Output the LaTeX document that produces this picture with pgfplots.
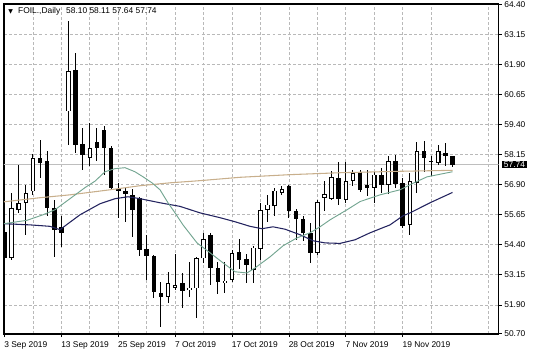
\documentclass[border=0pt]{standalone}
\usepackage{pgfplots}
\pgfplotsset{compat=1.18}
\usepackage{pgfplotstable}
\usepackage{fontspec}
\setmainfont{Liberation Sans}
\newfontfamily\dejavu{DejaVu Sans}

\definecolor{gridc}{RGB}{185,185,185}
\definecolor{navyma}{RGB}{35,35,95}
\definecolor{tealma}{RGB}{115,165,145}
\definecolor{tanma}{RGB}{200,175,140}
\definecolor{pricel}{RGB}{190,190,190}

\pgfplotstableread{
i o h l c
0 54.94 55.05 52.82 53.86
1 53.86 56.55 53.78 55.93
2 55.86 57.73 55.72 56.14
3 56.14 56.90 54.82 56.55
4 56.62 58.19 56.48 58.01
5 58.01 58.78 57.18 57.80
6 57.87 58.29 55.58 55.93
7 55.93 56.28 53.91 55.03
8 55.16 55.58 54.33 54.89
9 59.95 63.70 58.57 61.62
10 61.69 62.39 58.22 58.57
11 58.60 59.26 57.52 58.15
12 58.01 59.47 57.66 58.43
13 58.66 59.26 57.87 58.45
14 59.19 59.36 57.32 58.43
15 58.43 58.50 56.69 56.76
16 56.72 56.97 55.51 56.64
17 56.66 56.76 55.37 56.53
18 56.48 56.72 54.72 55.83
19 56.35 56.41 53.94 54.19
20 54.22 54.82 52.94 53.94
21 53.94 53.98 52.18 52.45
22 52.41 52.87 50.97 52.25
23 52.25 53.25 51.97 52.80
24 52.60 54.03 52.53 52.74
25 52.80 53.22 51.76 52.50
26 52.53 53.70 52.25 52.62
27 52.59 53.91 51.35 53.84
28 53.84 54.91 53.64 54.64
29 54.82 54.89 52.73 53.43
30 53.43 53.70 52.36 52.87
31 52.83 53.70 52.39 52.91
32 52.94 54.20 52.87 54.05
33 54.12 54.64 53.39 53.77
34 53.80 54.00 52.80 53.57
35 53.36 54.36 52.80 54.29
36 54.22 56.14 53.78 55.86
37 55.86 56.48 55.37 56.07
38 56.03 56.76 55.58 56.66
39 56.55 56.83 56.48 56.72
40 56.83 56.90 55.51 55.79
41 55.79 55.89 54.61 55.47
42 55.47 55.58 54.54 54.89
43 54.89 55.30 53.64 54.08
44 54.08 56.28 53.98 56.18
45 56.35 57.04 55.79 56.50
46 56.30 57.46 56.25 57.22
47 57.18 57.83 56.07 56.30
48 56.28 57.83 56.14 57.04
49 57.07 57.52 56.83 57.39
50 57.43 57.52 56.60 56.69
51 56.90 57.52 56.42 56.76
52 56.76 57.45 56.16 57.32
53 57.32 57.60 56.55 56.90
54 56.90 58.08 56.52 57.87
55 57.90 58.15 56.76 56.94
56 56.97 57.20 55.10 55.19
57 55.23 57.39 54.82 57.04
58 56.97 58.66 56.55 58.29
59 58.29 58.70 57.45 58.01
60 57.84 58.08 57.25 57.90
61 57.80 58.54 57.73 58.29
62 58.22 58.64 57.66 58.11
63 58.10 58.11 57.64 57.74
}\candles

\pgfplotstableread{
x y
-0.07 56.19
4.99 56.36
9.21 56.48
14.84 56.69
19.06 56.86
23.27 56.98
27.49 57.07
33.12 57.21
40.15 57.32
47.18 57.40
55.62 57.46
63 57.50
}\tanline

\pgfplotstableread{
x y
-0.07 55.28
3.59 55.23
6.40 55.17
7.81 55.03
8.93 55.28
10.62 55.65
13.43 56.11
15.54 56.32
17.37 56.40
19.06 56.32
21.87 56.15
24.68 56.00
27.49 55.73
30.30 55.53
32.42 55.36
34.52 55.17
36.21 55.07
37.76 55.15
39.45 55.05
41.56 54.82
43.38 54.57
45.07 54.48
47.18 54.46
49.29 54.61
51.40 54.90
54.21 55.23
56.04 55.61
57.03 55.73
59.84 56.15
63 56.58
}\navyline

\pgfplotstableread{
x y
-0.07 55.28
3.16 55.42
5.41 55.65
7.10 55.86
9.21 56.32
11.32 56.78
12.73 57.05
14.13 57.44
15.54 57.57
16.95 57.61
18.35 57.44
19.48 57.23
20.74 56.98
21.87 56.69
22.99 56.15
23.98 55.73
25.10 55.23
27.07 54.48
28.90 54.07
30.73 53.65
32.42 53.28
34.10 53.23
35.23 53.44
37.34 53.90
39.17 54.36
41.14 54.69
42.96 54.90
44.37 55.15
45.78 55.44
48.17 55.86
50.00 56.20
52.81 56.48
55.62 56.69
57.45 56.96
59.42 57.23
63 57.44
}\tealline

\begin{document}
\begin{tikzpicture}[x=1pt,y=1pt]
\useasboundingbox (0,0) rectangle (402,268.5);
\begin{axis}[
  at={(3pt,18pt)}, anchor=south west,
  scale only axis, width=370.9pt, height=247.5pt,
  xmin=-0.07, xmax=69.47, ymin=50.69, ymax=64.42,
  axis line style={black, line width=0.8pt},
  tick style={black, line width=0.6pt},
  tick align=outside, major tick length=2.4pt, minor tick length=0pt,
  xtick pos=left, ytick pos=right, yticklabel pos=right,
  xtick={0,8,...,56}, minor xtick={4,12,...,68},
  xticklabels={3 Sep 2019,13 Sep 2019,25 Sep 2019,7 Oct 2019,17 Oct 2019,28 Oct 2019,7 Nov 2019,19 Nov 2019},
  ytick={50.70,51.90,53.15,54.40,55.65,56.90,58.15,59.40,60.65,61.90,63.15,64.40},
  yticklabels={50.70,51.90,53.15,54.40,55.65,56.90,58.15,59.40,60.65,61.90,63.15,64.40},
  grid=both,
  major grid style={gridc, dash pattern=on 2.2pt off 1.6pt, line width=0.6pt},
  minor grid style={gridc, dash pattern=on 2.2pt off 1.6pt, line width=0.6pt},
  /pgf/number format/assume math mode=true,
  ticklabel style={font=\fontsize{6.3}{7}\selectfont, inner sep=0pt},
  xticklabel style={anchor=north west, xshift=-0.3pt, yshift=-3pt},
  yticklabel style={anchor=west, xshift=1.8pt},
  clip=true,
]
\addplot[pricel, line width=0.6pt, forget plot] coordinates {(-1,57.74) (71,57.74)};
% wicks
\addplot[draw=none, mark=none, forget plot,
  error bars/.cd, y dir=both, y explicit, error mark=none,
  error bar style={draw=black, line width=0.75pt}]
  table[x=i, y expr={(\thisrow{h}+\thisrow{l})/2}, y error expr={(\thisrow{h}-\thisrow{l})/2}] {\candles};
% bodies
\addplot[draw=none, mark=none, forget plot,
  error bars/.cd, y dir=both, y explicit, error mark=none,
  error bar style={draw=black, line width=3.4pt}]
  table[x=i, y expr={(\thisrow{o}+\thisrow{c})/2}, y error expr={abs(\thisrow{c}-\thisrow{o})/2}] {\candles};
% white interiors of rising candles
\addplot[draw=none, mark=none, forget plot,
  error bars/.cd, y dir=both, y explicit, error mark=none,
  error bar style={draw=white, line width=1.8pt}]
  table[x=i, y expr={(\thisrow{o}+\thisrow{c})/2}, y error expr={max(abs(\thisrow{c}-\thisrow{o})/2-0.033,0)*(\thisrow{c}>\thisrow{o})}] {\candles};
% moving averages
\addplot[tanma, line width=0.8pt, mark=none] table[x=x,y=y] {\tanline};
\addplot[navyma, line width=0.8pt, mark=none] table[x=x,y=y] {\navyline};
\addplot[tealma, line width=0.7pt, mark=none] table[x=x,y=y] {\tealline};
\coordinate (pl) at (axis cs:69.47,57.74);
\coordinate (tl) at (rel axis cs:0,1);
\end{axis}
\node[fill=black, text=white, anchor=west, inner xsep=1.5pt, inner ysep=0.6pt, text height=4.4pt, text depth=0pt, font=\fontsize{6.3}{7}\selectfont] at ([xshift=2.4pt]pl) {57.74};
\node[anchor=west, inner sep=0pt, font=\fontsize{6.3}{7}\selectfont] at ([xshift=3pt, yshift=-5.3pt]tl) {{\dejavu\fontsize{4.5}{5}\selectfont ▼}\hspace{4pt}FOIL.,Daily\hspace{4.5pt}58.10 58.11 57.64 57.74};
\end{tikzpicture}
\end{document}
